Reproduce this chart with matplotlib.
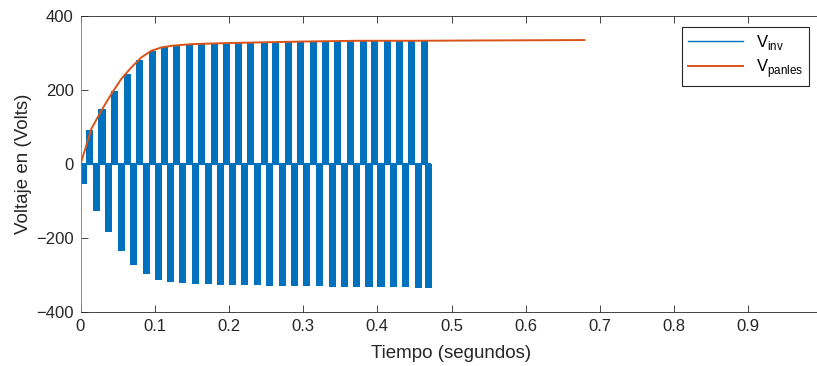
import numpy as np
import matplotlib.pyplot as plt

plt.rcParams['font.family'] = ['Liberation Sans', 'DejaVu Sans']
plt.rcParams['mathtext.fontset'] = 'custom'
plt.rcParams['mathtext.rm'] = 'Liberation Sans'

# Panel voltage
t_pan = [0, 0.0057, 0.0146, 0.028, 0.0415, 0.055, 0.0685, 0.082, 0.0955, 0.109,
         0.125, 0.15, 0.2, 0.25, 0.3, 0.373, 0.45, 0.55, 0.679]
v_pan = [0, 36, 95, 144, 189, 230, 261, 288, 306, 315,
         320, 324, 327, 329, 331, 333, 333, 334, 335]

# Inverter output: centre time and peak of each positive / negative pulse
pos_t = [0.012, 0.029, 0.046, 0.063, 0.0795, 0.0965, 0.113, 0.130, 0.147, 0.163,
         0.1805, 0.197, 0.213, 0.2295, 0.248, 0.263, 0.2805, 0.297, 0.3135, 0.3305,
         0.347, 0.3637, 0.381, 0.396, 0.414, 0.4305, 0.4466, 0.463]
pos_v = [92, 150, 198, 243, 280, 305, 316, 322, 324, 326,
         327, 328, 328, 329, 330, 330, 331, 331, 331, 332,
         332, 332, 333, 333, 333, 333, 333, 333]
neg_t = [0.0045, 0.0215, 0.038, 0.055, 0.072, 0.0885, 0.105, 0.121, 0.138, 0.155,
         0.172, 0.189, 0.205, 0.221, 0.238, 0.2545, 0.272, 0.2885, 0.305, 0.322,
         0.339, 0.3555, 0.372, 0.3888, 0.405, 0.4215, 0.438, 0.455, 0.469]
neg_v = [-54, -126, -185, -234, -272, -297, -313, -320, -322, -324,
         -325, -326, -327, -328, -328, -329, -330, -330, -331, -331,
         -332, -332, -332, -333, -333, -333, -333, -334, -334]
inv_end = 0.472
pulse_w = 0.0095

x_ticks = [0, 0.1, 0.2, 0.3, 0.4, 0.5, 0.6, 0.7, 0.8, 0.9]
y_ticks = [-400, -200, 0, 200, 400]

blue = '#0072BD'
orange = '#D95319'
axcol = '#262626'

fig = plt.figure(figsize=(8.17, 3.66), dpi=100)
ax = fig.add_axes([80.5 / 817, 54 / 366, 742 / 817, 296 / 366])

ax.bar(pos_t, pos_v, width=pulse_w, color=blue, linewidth=0, zorder=2)
ax.bar(neg_t, neg_v, width=pulse_w, color=blue, linewidth=0, zorder=2)
ax.hlines(0, 0, inv_end, color=blue, linewidth=1.5, zorder=2)
ax.plot([], [], color=blue, linewidth=1.0, label=r'V$_{\mathregular{inv}}$')
ax.plot(t_pan, v_pan, color=orange, linewidth=1.4, zorder=3,
        label=r'V$_{\mathregular{panles}}$')

ax.set_xlim(0, 1)
ax.set_ylim(-400, 400)
ax.set_xticks(x_ticks)
ax.set_xticklabels(['%g' % v for v in x_ticks])
ax.set_yticks(y_ticks)
ax.tick_params(direction='in', length=5, width=0.6, colors=axcol,
               labelsize=12, top=True, right=False, pad=5)
ax.spines['right'].set_visible(False)
for s in ax.spines.values():
    s.set_color(axcol)
    s.set_linewidth(0.6)
ax.spines['left'].set_color('#808080')

ax.set_xlabel('Tiempo (segundos)', fontsize=13.5, color=axcol, labelpad=8)
ax.set_ylabel('Voltaje en (Volts)', fontsize=13.5, color=axcol, labelpad=3)

leg = ax.legend(loc='upper right', bbox_to_anchor=(0.982, 0.963), borderaxespad=0,
                fontsize=12, handlelength=3.3, frameon=True, fancybox=False,
                edgecolor=axcol, framealpha=1, borderpad=0.35, labelspacing=0.3)
leg.get_frame().set_linewidth(0.8)

fig.savefig('out.png', dpi=100)
